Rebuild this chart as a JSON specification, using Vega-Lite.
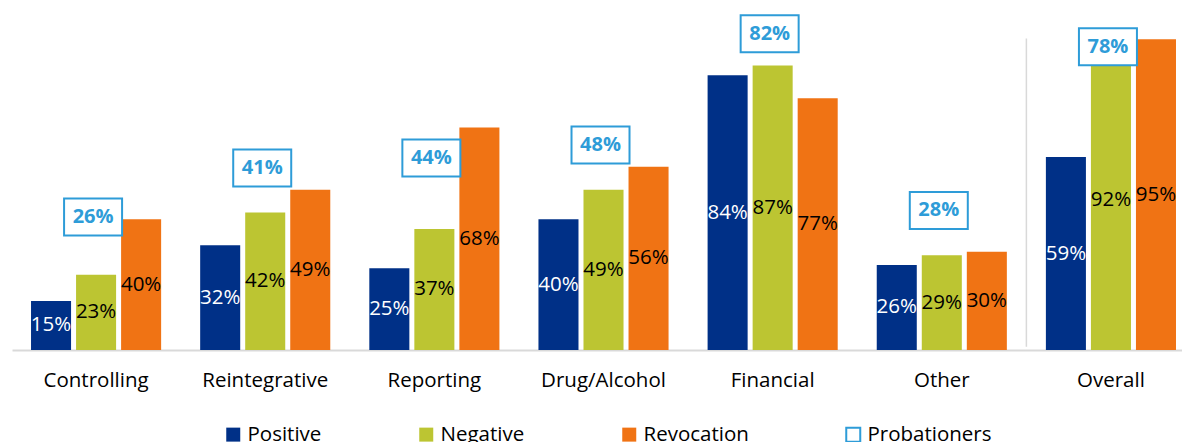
{
  "$schema": "https://vega.github.io/schema/vega-lite/v6.json",
  "width": 1170,
  "height": 350,
  "autosize": {"type": "none"},
  "padding": {"left": 12, "top": 0, "right": 0, "bottom": 92},
  "background": "white",
  "config": {"view": {"stroke": null}, "font": "Open Sans"},
  "datasets": {
    "bars": [
      {"category": "Controlling", "series": "Positive", "value": 0.15},
      {"category": "Controlling", "series": "Negative", "value": 0.23},
      {"category": "Controlling", "series": "Revocation", "value": 0.40},
      {"category": "Reintegrative", "series": "Positive", "value": 0.32},
      {"category": "Reintegrative", "series": "Negative", "value": 0.42},
      {"category": "Reintegrative", "series": "Revocation", "value": 0.49},
      {"category": "Reporting", "series": "Positive", "value": 0.25},
      {"category": "Reporting", "series": "Negative", "value": 0.37},
      {"category": "Reporting", "series": "Revocation", "value": 0.68},
      {"category": "Drug/Alcohol", "series": "Positive", "value": 0.40},
      {"category": "Drug/Alcohol", "series": "Negative", "value": 0.49},
      {"category": "Drug/Alcohol", "series": "Revocation", "value": 0.56},
      {"category": "Financial", "series": "Positive", "value": 0.84},
      {"category": "Financial", "series": "Negative", "value": 0.87},
      {"category": "Financial", "series": "Revocation", "value": 0.77},
      {"category": "Other", "series": "Positive", "value": 0.26},
      {"category": "Other", "series": "Negative", "value": 0.29},
      {"category": "Other", "series": "Revocation", "value": 0.30},
      {"category": "Overall", "series": "Positive", "value": 0.59},
      {"category": "Overall", "series": "Negative", "value": 0.92},
      {"category": "Overall", "series": "Revocation", "value": 0.95}
    ],
    "prob": [
      {"category": "Controlling", "value": 0.26},
      {"category": "Reintegrative", "value": 0.41},
      {"category": "Reporting", "value": 0.44},
      {"category": "Drug/Alcohol", "value": 0.48},
      {"category": "Financial", "value": 0.82},
      {"category": "Other", "value": 0.28},
      {"category": "Overall", "value": 0.78}
    ]
  },
  "resolve": {"scale": {"y": "independent"}},
  "layer": [
    {
      "data": {"name": "bars"},
      "mark": {"type": "bar"},
      "encoding": {
        "x": {
          "field": "category", "type": "nominal",
          "sort": ["Controlling", "Reintegrative", "Reporting", "Drug/Alcohol", "Financial", "Other", "Overall"],
          "scale": {"paddingInner": 0.2308, "paddingOuter": 0.074, "align": 0.76},
          "axis": {
            "title": null, "labelAngle": 0, "ticks": false, "labelPadding": 20,
            "labelFont": "Open Sans", "labelFontSize": 20.5, "labelColor": "#000000",
            "domainColor": "#d9d9d9", "domainWidth": 2, "grid": false
          }
        },
        "xOffset": {
          "field": "series", "type": "nominal",
          "sort": ["Positive", "Negative", "Revocation"],
          "scale": {"paddingInner": 0.111, "paddingOuter": 0}
        },
        "y": {"field": "value", "type": "quantitative", "scale": {"domain": [0, 1.07], "nice": false, "zero": true}, "axis": null},
        "color": {
          "field": "series", "type": "nominal",
          "scale": {
            "domain": ["Positive", "Negative", "Revocation", "Probationers"],
            "range": ["#003087", "#BCC532", "#F07314", "#ffffff"]
          },
          "legend": {
            "orient": "none", "legendX": 211, "legendY": 424, "direction": "horizontal",
            "title": null, "symbolType": "square", "symbolSize": 196, "symbolOpacity": 1,
            "labelFont": "Open Sans", "labelFontSize": 20.5, "labelColor": "#000000",
            "columnPadding": 93, "labelOffset": 4,
            "encode": {
              "symbols": {
                "update": {
                  "stroke": [{"test": "datum.label === 'Probationers'", "value": "#2E9CD8"}, {"value": "transparent"}],
                  "strokeWidth": {"value": 2}
                }
              }
            }
          }
        }
      }
    },
    {
      "data": {"name": "bars"},
      "mark": {"type": "text", "baseline": "middle", "align": "center", "font": "Open Sans", "fontSize": 20.5},
      "encoding": {
        "x": {"field": "category", "type": "nominal", "sort": ["Controlling", "Reintegrative", "Reporting", "Drug/Alcohol", "Financial", "Other", "Overall"]},
        "xOffset": {"field": "series", "type": "nominal", "sort": ["Positive", "Negative", "Revocation"]},
        "y": {"field": "value", "type": "quantitative", "scale": {"domain": [0, 2.14], "nice": false, "zero": true}, "axis": null},
        "text": {"field": "value", "type": "quantitative", "format": ".0%"},
        "color": {"condition": {"test": "datum.series === 'Positive'", "value": "#ffffff"}, "value": "#000000"}
      }
    },
    {
      "data": {"name": "prob"},
      "mark": {
        "type": "point", "shape": "M -1 -0.638 L 1 -0.638 L 1 0.638 L -1 0.638 Z",
        "size": 3364, "filled": true, "fill": "#ffffff", "fillOpacity": 1,
        "stroke": "#2E9CD8", "strokeWidth": 2, "strokeOpacity": 1, "opacity": 1,
        "yOffset": -48, "xOffset": -3
      },
      "encoding": {
        "x": {"field": "category", "type": "nominal", "sort": ["Controlling", "Reintegrative", "Reporting", "Drug/Alcohol", "Financial", "Other", "Overall"]},
        "y": {"field": "value", "type": "quantitative", "scale": {"domain": [0, 1.07], "nice": false, "zero": true}, "axis": null}
      }
    },
    {
      "data": {"name": "prob"},
      "mark": {
        "type": "text", "baseline": "middle", "align": "center", "font": "Open Sans",
        "fontSize": 20, "fontWeight": "bold", "color": "#2E9CD8", "yOffset": -48, "xOffset": -3
      },
      "encoding": {
        "x": {"field": "category", "type": "nominal", "sort": ["Controlling", "Reintegrative", "Reporting", "Drug/Alcohol", "Financial", "Other", "Overall"]},
        "y": {"field": "value", "type": "quantitative", "scale": {"domain": [0, 1.07], "nice": false, "zero": true}, "axis": null},
        "text": {"field": "value", "type": "quantitative", "format": ".0%"}
      }
    },
    {
      "data": {"name": "prob"},
      "transform": [{"filter": "datum.category === 'Overall'"}],
      "mark": {"type": "rule", "color": "#d9d9d9", "strokeWidth": 1.5, "xOffset": -19.5},
      "encoding": {
        "x": {"field": "category", "type": "nominal", "bandPosition": 0, "sort": ["Controlling", "Reintegrative", "Reporting", "Drug/Alcohol", "Financial", "Other", "Overall"]},
        "y": {"datum": 0.952, "type": "quantitative", "scale": {"domain": [0, 1.07], "nice": false, "zero": true}, "axis": null},
        "y2": {"datum": 0.01}
      }
    }
  ]
}
